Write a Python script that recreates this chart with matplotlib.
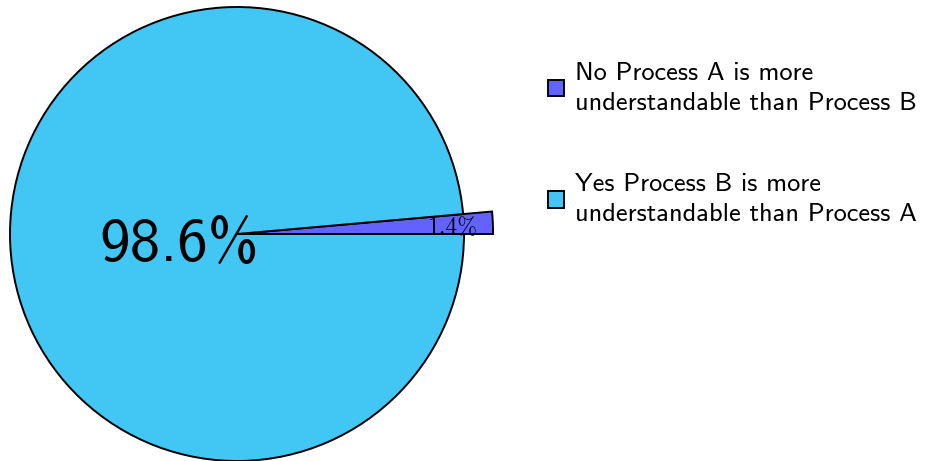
import matplotlib.pyplot as plt

# Data
answers = ["No Process A is more\nunderstandable than Process B",
           "Yes Process B is more\nunderstandable than Process A"]
shares = [1.4, 98.6]
colors = ["#6262FF", "#42C7F4"]

fig = plt.figure(figsize=(9.27, 4.61), dpi=100)
ax = fig.add_axes([0, 0, 1, 1])

# pixel -> data mapping: centre at (237, 234) px, radius 227 px
R = 227.0
cx, cy = 237.0, 234.0

wedges, _ = ax.pie(shares, colors=colors, startangle=0, counterclock=True,
                   radius=1.0,
                   wedgeprops=dict(edgecolor="black", linewidth=1.4))
# the small slice sticks out past the circle
wedges[0].set_radius(1.128)

ax.set_xlim(-cx / R, (927 - cx) / R)
ax.set_ylim(-(461 - cy) / R, cy / R)
ax.set_aspect("auto")
ax.axis("off")

# percentage labels
ax.text((179 - cx) / R, (cy - 261) / R, f"{shares[1]}%", fontsize=44,
        family="cmss10", ha="center", va="baseline")
ax.text((453 - cx) / R, 0.0, f"{shares[0]}%", fontsize=17,
        family="cmr10", ha="center", va="baseline")

leg = fig.legend(wedges, answers, loc="upper left",
                 bbox_to_anchor=(524 / 927, 1 - 38 / 461), frameon=False,
                 handlelength=0.6, handleheight=0.6, handletextpad=0.45,
                 labelspacing=2.2, prop={"family": "cmss10", "size": 19})
for t in leg.get_texts():
    t.set_linespacing(1.4)

fig.savefig("out.png", dpi=100)
